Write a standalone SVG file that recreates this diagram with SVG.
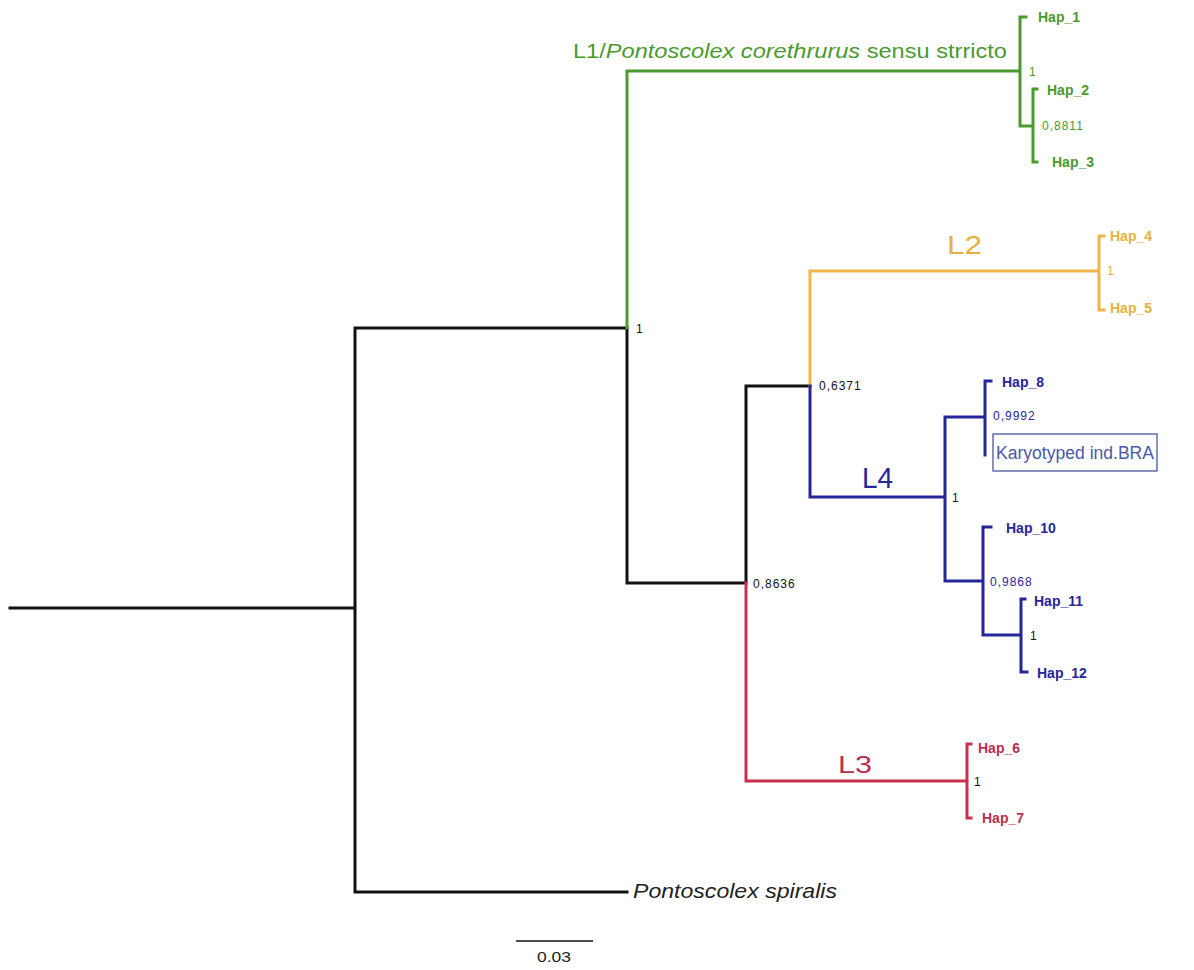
<svg xmlns="http://www.w3.org/2000/svg" width="1194" height="970" viewBox="0 0 1194 970">
<style>
.e{fill:none;stroke-width:3;stroke-linecap:square}
.k{stroke:#111}
.g{stroke:#4a9a2e}
.o{stroke:#f0b44a}
.b{stroke:#26269a}
.r{stroke:#c8304e}
text{font-family:"Liberation Sans",Arial,sans-serif}
.h{font-size:14px;font-weight:bold}
.n{font-size:12px;letter-spacing:1px}
.gt{fill:#4a9a2e}
.ot{fill:#e8b040}
.bt{fill:#26269a}
.rt{fill:#b8304e}
.kt{fill:#111}
</style>
<rect width="1194" height="970" fill="#fff"/>
<g id="connectors">
<path class="e k" d="M10,608H355M355,328V892M355,328H627M627,328V583M627,583H746M746,386V583M746,386H810M355,892H627"/>
<path class="e g" d="M627,328V71H1020M1020,17V126M1020,17H1026M1020,126H1033M1033,89V162M1033,89H1037M1033,162H1037"/>
<path class="e o" d="M810,386V271H1099M1099,236V310M1099,236H1104M1099,310H1104"/>
<path class="e b" d="M810,386V497H945M945,417V581M945,417H985M985,381V455M985,381H991M945,581H983M983,527V635M983,527H991M983,635H1021M1021,599V672M1021,599H1025M1021,672H1027"/>
<path class="e r" d="M746,583V781H967M967,744V818M967,744H971M967,818H971"/>
<path fill="none" stroke="#111" stroke-width="1.5" d="M516,941H593"/>
</g>
<g id="L1">
<text x="573" y="58" font-size="21" class="gt" textLength="434" lengthAdjust="spacingAndGlyphs">L1/<tspan font-style="italic">Pontoscolex corethrurus</tspan> sensu strricto</text>
<text x="1029" y="76" class="n gt">1</text>
<text x="1042" y="130" class="n gt">0,8811</text>
<text x="1038" y="22" class="h gt">Hap_1</text>
<text x="1047" y="95" class="h gt">Hap_2</text>
<text x="1052" y="167" class="h gt">Hap_3</text>
</g>
<g id="L2">
<text x="947" y="254" font-size="26" class="ot" textLength="35" lengthAdjust="spacingAndGlyphs">L2</text>
<text x="1107" y="275" class="n ot">1</text>
<text x="1110" y="241" class="h ot">Hap_4</text>
<text x="1110" y="313" class="h ot">Hap_5</text>
</g>
<g id="L4">
<text x="862" y="488" font-size="29" class="bt" textLength="31" lengthAdjust="spacingAndGlyphs">L4</text>
<text x="952" y="502" class="n kt">1</text>
<text x="993" y="420" class="n bt">0,9992</text>
<text x="990" y="586" class="n bt">0,9868</text>
<text x="1030" y="640" class="n kt">1</text>
<text x="1002" y="387" class="h bt">Hap_8</text>
<rect x="993" y="434" width="164" height="37" fill="#fff" stroke="#3a4a98" stroke-width="1.2"/>
<text x="996" y="459" font-size="18" fill="#4a5aa8" textLength="158" lengthAdjust="spacingAndGlyphs">Karyotyped ind.BRA</text>
<text x="1006" y="533" class="h bt">Hap_10</text>
<text x="1034" y="606" class="h bt">Hap_11</text>
<text x="1037" y="678" class="h bt">Hap_12</text>
</g>
<g id="L3">
<text x="838" y="773" font-size="24" class="rt" textLength="34" lengthAdjust="spacingAndGlyphs">L3</text>
<text x="974" y="786" class="n kt">1</text>
<text x="978" y="753" class="h rt">Hap_6</text>
<text x="982" y="823" class="h rt">Hap_7</text>
</g>
<g id="inner">
<text x="636" y="333" class="n kt">1</text>
<text x="819" y="390" class="n kt">0,6371</text>
<text x="753" y="588" class="n kt">0,8636</text>
</g>
<g id="outgroup">
<text x="633" y="898" font-size="21" font-style="italic" fill="#222" textLength="204" lengthAdjust="spacingAndGlyphs">Pontoscolex spiralis</text>
</g>
<g id="scale">
<text x="537" y="962" font-size="14" fill="#222" textLength="34" lengthAdjust="spacingAndGlyphs">0.03</text>
</g>
</svg>
